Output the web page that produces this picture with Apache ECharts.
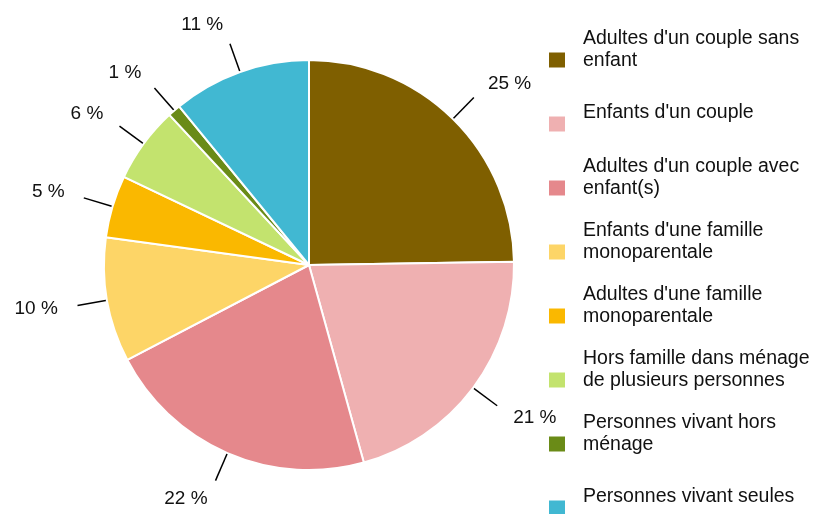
<!DOCTYPE html>
<html>
<head>
<meta charset="utf-8">
<script src="https://cdn.jsdelivr.net/npm/echarts@6/dist/echarts.min.js"></script>
<style>
  html, body { margin: 0; padding: 0; background: #fff; }
  #chart { width: 817px; height: 514px; }
</style>
</head>
<body>
<div id="chart"></div>
<script>
// catégories (retours à la ligne comme dans la légende d'origine)
var categories = [
  "Adultes d'un couple sans\nenfant",
  "Enfants d'un couple",
  "Adultes d'un couple avec\nenfant(s)",
  "Enfants d'une famille\nmonoparentale",
  "Adultes d'une famille\nmonoparentale",
  "Hors famille dans ménage\nde plusieurs personnes",
  "Personnes vivant hors\nménage",
  "Personnes vivant seules"
]
var values = [24.7, 20.9, 21.6, 9.8, 4.9, 6.0, 1.0, 10.9]
var colors = ['#7f5f00', '#efb0b1', '#e5888c', '#fdd567', '#fab800', '#c3e36e', '#6a8b17', '#41b8d2']

var font = 'Liberation Sans, Arial, sans-serif'
var dom = document.getElementById('chart')
var myChart = echarts.init(dom)

var pieData = []
for (var i = 0; i < categories.length; i++) {
  pieData.push({ name: categories[i], value: values[i], itemStyle: { color: colors[i] } })
}

// une ligne ou deux : même hauteur (64px) pour chaque entrée, texte un peu au-dessus du carré
var legendData = categories.map(function (c) {
  var twoLines = c.indexOf('\n') >= 0
  return {
    name: c,
    textStyle: { padding: twoLines ? [0, 0, 20, 13] : [10, 0, 32, 13] }
  }
})

var labelGap = 20

var option = {
  animation: false,
  backgroundColor: '#fff',
  legend: {
    orient: 'vertical',
    left: 549,
    top: 28,
    height: 700,
    padding: 0,
    itemGap: 0,
    itemWidth: 16,
    itemHeight: 15,
    icon: 'rect',
    itemStyle: { borderWidth: 0 },
    data: legendData,
    formatter: function (name) { return '{t|' + name + '}' },
    textStyle: {
      backgroundColor: 'rgba(0,0,0,0)',
      rich: { t: { fontFamily: font, fontSize: 19.5, lineHeight: 22, color: '#111' } }
    }
  },
  series: [{
    type: 'pie',
    center: [309, 265],
    radius: 205,
    startAngle: 90,
    clockwise: true,
    avoidLabelOverlap: false,
    data: pieData,
    itemStyle: { borderColor: '#fff', borderWidth: 2 },
    label: {
      show: true,
      position: 'outside',
      fontFamily: font,
      fontSize: 19,
      color: '#111',
      formatter: function (p) { return Math.round(p.percent) + ' %' }
    },
    labelLine: {
      show: true,
      length: 30,
      length2: 0,
      lineStyle: { color: '#000', width: 1.5 }
    },
    labelLayout: function (p) {
      var pts = p.labelLinePoints
      if (!pts) return {}
      var a = pts[0], b = pts[1]
      var dx = b[0] - a[0], dy = b[1] - a[1]
      var len = Math.sqrt(dx * dx + dy * dy) || 1
      var ux = dx / len, uy = dy / len
      return {
        x: b[0] + ux * labelGap,
        y: b[1] + uy * labelGap,
        align: ux >= 0 ? 'left' : 'right',
        verticalAlign: 'middle',
        labelLinePoints: [a, b]
      }
    },
    emphasis: { disabled: true }
  }]
}
myChart.setOption(option)
</script>
</body>
</html>
